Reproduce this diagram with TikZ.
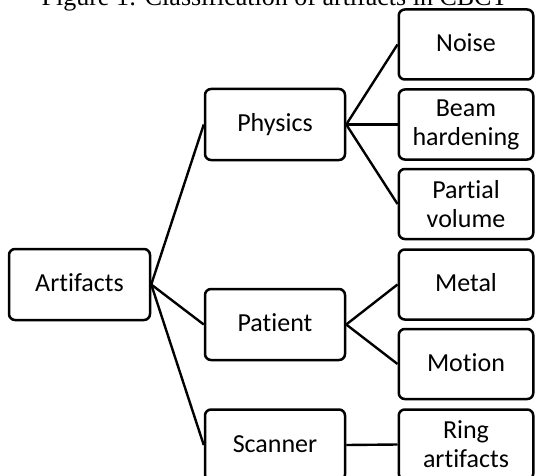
\documentclass[tikz,border=0pt]{standalone}
\usepackage{fontspec}
\setmainfont{Carlito}[Ligatures=NoCommon]
\newfontfamily\titlefont{Liberation Serif}
\begin{document}
\begin{tikzpicture}[x=1pt,y=1pt,
  box/.style={draw=black, line width=2.5pt, rounded corners=6pt, fill=white,
    inner sep=0pt, minimum height=70pt, align=center,
    font=\fontsize{26}{29}\selectfont},
  midbox/.style={box, minimum width=140pt},
  leafbox/.style={box, minimum width=134.5pt},
  rootbox/.style={box, minimum width=141pt},
  oneline/.style={text height=16pt, text depth=2pt},
  link/.style={draw=black, line width=2.4pt}]
\useasboundingbox (0,0) rectangle (535,-476);
\node[font=\titlefont\fontsize{26}{30}\selectfont, anchor=base] (title) at (274.5,-6) {Figure 1: Classification of artifacts in CBCT};
\node[rootbox, oneline, minimum height=71pt] (art) at (79.5,-284.5) {Artifacts};
\node[midbox, oneline, minimum height=71pt] (phy) at (275,-124.5) {Physics};
\node[midbox, oneline, minimum height=71pt] (pat) at (275,-324.5) {Patient};
\node[midbox, oneline, minimum height=71pt] (scn) at (275,-445) {Scanner};
\node[leafbox, oneline] (noi) at (466,-44.5) {Noise};
\node[leafbox] (bea) at (466,-124.5) {Beam\\hardening};
\node[leafbox] (par) at (466,-204) {Partial\\volume};
\node[leafbox, oneline] (met) at (466,-284.5) {Metal};
\node[leafbox, oneline] (mot) at (466,-364) {Motion};
\node[leafbox] (rin) at (466,-444.5) {Ring\\artifacts};
\draw[link] (art.east) -- (phy.west);
\draw[link] (art.east) -- (pat.west);
\draw[link] (art.east) -- (scn.west);
\draw[link] (phy.east) -- (noi.west);
\draw[link] (phy.east) -- (bea.west);
\draw[link] (phy.east) -- (par.west);
\draw[link] (pat.east) -- (met.west);
\draw[link] (pat.east) -- (mot.west);
\draw[link] (scn.east) -- (rin.west);
\end{tikzpicture}
\end{document}
